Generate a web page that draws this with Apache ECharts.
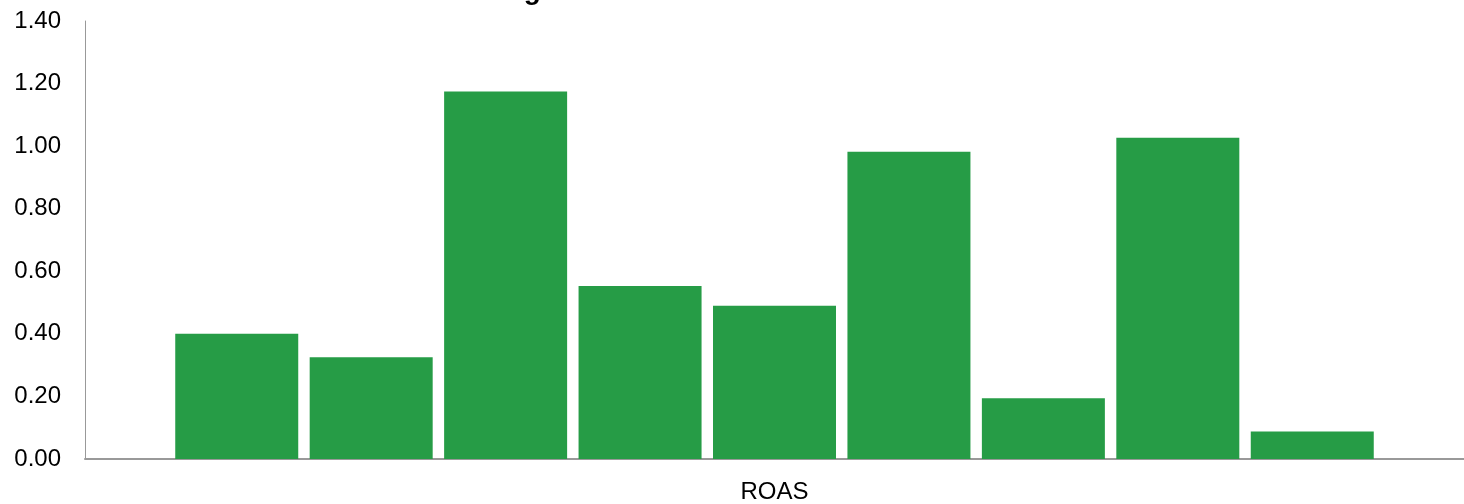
<!DOCTYPE html>
<html>
<head>
<meta charset="utf-8">
<title>ROAS</title>
<script src="https://cdn.jsdelivr.net/npm/echarts@6/dist/echarts.min.js"></script>
<style>
  html, body { margin: 0; padding: 0; background: #fff; }
  #chart { width: 1464px; height: 504px; }
</style>
</head>
<body>
<div id="chart"></div>
<script>
var categories = ['ROAS'];
// one value per campaign
var roasValues = [0.40, 0.325, 1.175, 0.553, 0.49, 0.982, 0.194, 1.027, 0.088];
var yTicks = { min: 0, max: 1.4, interval: 0.2 };

var myChart = echarts.init(document.getElementById('chart'));

var series = roasValues.map(function (v, i) {
    return {
        name: 'Campaign ' + (i + 1),
        type: 'bar',
        data: [v],
        barWidth: 123,
        barGap: '9.3%',
        itemStyle: { color: '#269c46' },
        animation: false
    };
});

var option = {
    title: {
        text: 'Average ROAS',
        left: 442,
        top: -28,
        textStyle: { fontFamily: 'Liberation Sans', fontSize: 28, fontWeight: 'bold', color: '#000' }
    },
    grid: { left: 85, right: -2, top: 21, bottom: 43 },
    xAxis: {
        type: 'category',
        data: categories,
        axisLine: { lineStyle: { color: '#999', width: 2 } },
        axisTick: { show: false },
        axisLabel: { color: '#000', fontFamily: 'Liberation Sans', fontSize: 24, margin: 21 }
    },
    yAxis: {
        type: 'value',
        min: yTicks.min,
        max: yTicks.max,
        interval: yTicks.interval,
        axisLine: { show: true, lineStyle: { color: '#999', width: 1 } },
        axisTick: { show: false },
        splitLine: { show: false },
        axisLabel: {
            color: '#000', fontFamily: 'Liberation Sans', fontSize: 24, margin: 24,
            formatter: function (v) { return v.toFixed(2); }
        }
    },
    series: series
};
myChart.setOption(option);
</script>
</body>
</html>
